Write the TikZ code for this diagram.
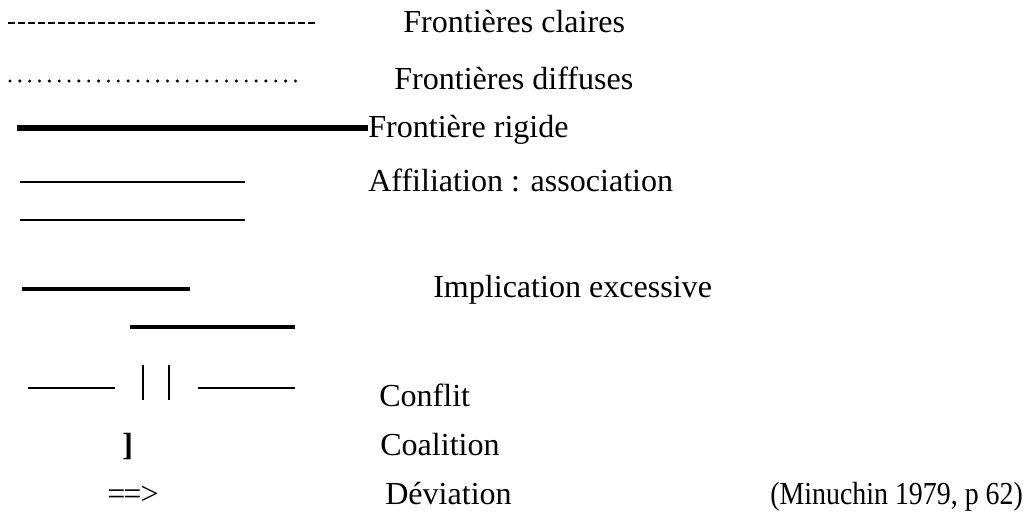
\documentclass[tikz,border=0pt]{standalone}
\usepackage{fontspec}
\setmainfont{Liberation Serif}
\usepackage{tikz}
\usetikzlibrary{positioning}

\tikzset{
    legendtext/.style={anchor=base west, inner sep=0pt, font=\fontsize{22.8}{27}\selectfont},
    thinline/.style={line width=1.2pt},
    midline/.style={line width=1.6pt},
    thickline/.style={line width=2.8pt},
}

\begin{document}
\begin{tikzpicture}[x=0.025cm, y=-0.025cm]
    \useasboundingbox[fill=white] (0,0) rectangle (1028,515);

    % Define nodes
    \node[legendtext] (Claires) at (403,32) {Frontières claires};
    \node[legendtext] (Diffuses) at (394,89) {Frontières diffuses};
    \node[legendtext] (Rigide) at (368,137) {Frontière rigide};
    \node[legendtext] (Affil) at (368,191) {Affiliation : association};
    \node[legendtext] (Implic) at (433,297) {Implication excessive};
    \node[legendtext] (Conflit) at (379,406) {Conflit};
    \node[legendtext] (Coal) at (380,455) {Coalition};
    \node[legendtext] (Devia) at (385,504) {Déviation};
    \node[legendtext] (Source) at (770,504) {\scalebox{0.87}[1]{(Minuchin 1979, p 62)}};

    % Symbols
    \node[legendtext] (CoalSym) at (122,455) {\textbf{]}};
    \node[legendtext] (DeviaSym) at (107,504) {=\kern-1.5pt=\kern-0.5pt>};

    % Draw lines
    \draw[line width=2pt, dash pattern=on 5pt off 2.1pt] (8,23) -- (315,23);
    \draw[line width=2.4pt, line cap=round, dash pattern=on 0pt off 7pt] (10,81) -- (300,81);
    \coordinate (RigStart) at (17,128);
    \draw[line width=3.6pt] (RigStart) -- (Rigide.west |- RigStart);
    \draw[midline] (20,182) -- (245,182);
    \draw[midline] (20,220) -- (245,220);
    \draw[thickline] (22,289) -- (190,289);
    \draw[thickline] (130,327) -- (295,327);
    \draw[thinline] (28,388) -- (115,388);
    \draw[thinline] (143,365) -- (143,400);
    \draw[thinline] (169,365) -- (169,400);
    \draw[thinline] (198,388) -- (295,388);
\end{tikzpicture}
\end{document}
